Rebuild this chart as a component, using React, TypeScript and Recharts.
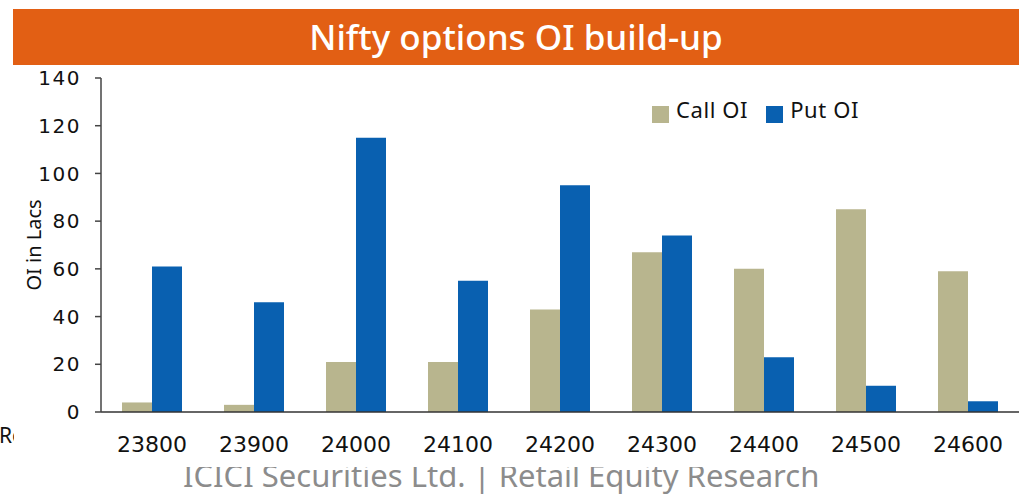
import React from 'react';
import { BarChart, Bar, XAxis, YAxis, Legend } from 'recharts';

// strike prices on the x axis
const strikes = ['23800', '23900', '24000', '24100', '24200', '24300', '24400', '24500', '24600'];
// open interest in lakh contracts
const callOI = [4, 3, 21, 21, 43, 67, 60, 85, 59];
const putOI = [61, 46, 115, 55, 95, 74, 23, 11, 4.5];
const yTicks = [0, 20, 40, 60, 80, 100, 120, 140];

const data = strikes.map((strike, i) => ({
  strike,
  'Call OI': callOI[i],
  'Put OI': putOI[i],
}));

const sans = '"Noto Sans", sans-serif';

export default function App() {
  return (
    <div
      style={{
        position: 'absolute',
        left: 0,
        top: 0,
        width: 1019,
        height: 498,
        overflow: 'hidden',
        background: '#fff',
      }}
    >
      {/* footer text, partly hidden under the chart */}
      <div
        style={{
          position: 'absolute',
          left: 0,
          top: 467,
          width: 1019,
          height: 31,
          overflow: 'hidden',
        }}
      >
        <div
          style={{
            position: 'absolute',
            left: 183,
            top: -2,
            fontFamily: sans,
            fontSize: 31,
            lineHeight: '20px',
            color: '#8c8c8c',
            whiteSpace: 'nowrap',
          }}
        >
          ICICI Securities Ltd. | Retail Equity Research
        </div>
      </div>

      <div
        style={{
          position: 'absolute',
          left: 0,
          top: 424,
          width: 14,
          height: 26,
          overflow: 'hidden',
        }}
      >
        <div
          style={{
            position: 'absolute',
            left: -1,
            top: 0,
            fontFamily: sans,
            fontSize: 21,
            lineHeight: '22px',
            color: '#111',
            whiteSpace: 'nowrap',
          }}
        >
          Re
        </div>
      </div>

      <div style={{ position: 'absolute', left: 0, top: 0 }}>
        <BarChart
          width={1019}
          height={498}
          data={data}
          margin={{ top: 78, right: 0, bottom: 46, left: 20 }}
          barCategoryGap={21}
          barGap={0}
        >
          <XAxis
            dataKey="strike"
            height={40}
            tickLine={false}
            tickSize={0}
            tickMargin={24}
            axisLine={{ stroke: '#333', strokeWidth: 1.5 }}
            tick={{ fill: '#111', fontSize: 22, fontFamily: 'DejaVu Sans' }}
            interval={0}
          />
          <YAxis
            width={81}
            domain={[0, 140]}
            ticks={yTicks}
            interval={0}
            tickSize={6}
            tickMargin={14}
            axisLine={{ stroke: '#444', strokeWidth: 1.5 }}
            tickLine={{ stroke: '#444', strokeWidth: 1.5 }}
            tick={{ fill: '#111', fontSize: 20, fontFamily: 'DejaVu Sans', letterSpacing: 1.5 }}
          />
          <Legend
            iconType="square"
            iconSize={17}
            layout="horizontal"
            align="center"
            verticalAlign="middle"
            wrapperStyle={{ top: 94, left: 652, width: 'auto' }}
            formatter={(value) => (
              <span
                style={{
                  color: '#111',
                  fontFamily: sans,
                  fontSize: 22,
                  letterSpacing: 0.6,
                  marginLeft: 3,
                  marginRight: 8,
                }}
              >
                {value}
              </span>
            )}
          />
          <Bar dataKey="Call OI" fill="#B8B58E" isAnimationActive={false} />
          <Bar dataKey="Put OI" fill="#0960B0" isAnimationActive={false} />
        </BarChart>
      </div>

      {/* y axis title */}
      <div
        style={{
          position: 'absolute',
          left: 33,
          top: 245,
          transform: 'translate(-50%, -50%) rotate(-90deg)',
          fontFamily: sans,
          fontSize: 20,
          color: '#111',
          whiteSpace: 'nowrap',
        }}
      >
        OI in Lacs
      </div>

      {/* title banner */}
      <div
        style={{
          position: 'absolute',
          left: 13,
          top: 9,
          width: 1006,
          height: 56,
          background: '#E25F14',
          color: '#fff',
          fontFamily: sans,
          fontSize: 35,
          fontWeight: 500,
          lineHeight: '56px',
          textAlign: 'center',
          whiteSpace: 'nowrap',
        }}
      >
        Nifty options OI build-up
      </div>
    </div>
  );
}
